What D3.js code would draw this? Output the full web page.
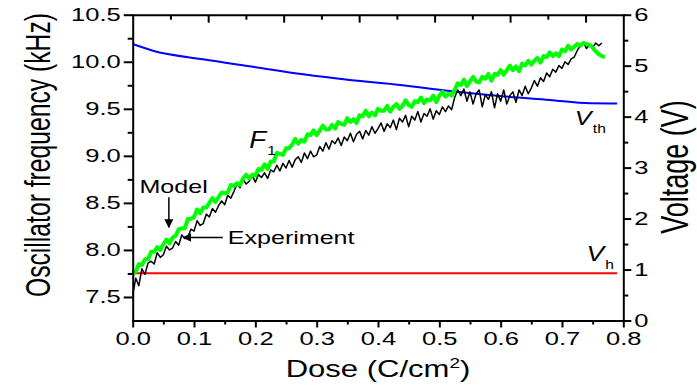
<!DOCTYPE html>
<html lang="en">
<head>
<meta charset="UTF-8" />
<script src="https://d3js.org/d3.v7.min.js"></script>
<style>
    body { margin: 0; background: #fff; overflow: hidden; }
    text { font-family: "Liberation Sans", Arial, sans-serif; fill: #000; }
    .axis path, .axis line { stroke: #000; stroke-width: 2; }
    .axis path { stroke-linecap: square; }
</style>
</head>
<body>
<script>
// ---- data ----
const doseStep = 0.005; // sampling of the two frequency traces (C/cm2)

// F1 model (green), kHz
const modelFreq = [
  7.74, 7.77, 7.85, 7.84, 7.90, 7.90, 7.98, 7.98, 8.03, 8.00,
  8.06, 8.11, 8.07, 8.13, 8.15, 8.22, 8.23, 8.23, 8.33, 8.33,
  8.35, 8.43, 8.39, 8.45, 8.45, 8.50, 8.55, 8.51, 8.56, 8.61,
  8.60, 8.61, 8.69, 8.68, 8.71, 8.69, 8.76, 8.80, 8.76, 8.80,
  8.79, 8.86, 8.85, 8.91, 8.86, 8.94, 8.94, 9.03, 9.02, 9.01,
  9.08, 9.08, 9.12, 9.18, 9.13, 9.17, 9.15, 9.23, 9.22, 9.27,
  9.22, 9.27, 9.32, 9.28, 9.28, 9.33, 9.29, 9.36, 9.34, 9.33,
  9.40, 9.36, 9.39, 9.35, 9.43, 9.42, 9.48, 9.42, 9.46, 9.43,
  9.50, 9.48, 9.48, 9.53, 9.47, 9.52, 9.55, 9.50, 9.53, 9.59,
  9.54, 9.52, 9.58, 9.57, 9.62, 9.56, 9.60, 9.59, 9.64, 9.57,
  9.64, 9.68, 9.63, 9.66, 9.64, 9.70, 9.77, 9.75, 9.81, 9.74,
  9.79, 9.84, 9.79, 9.78, 9.84, 9.82, 9.87, 9.80, 9.87, 9.86,
  9.91, 9.86, 9.91, 9.96, 9.91, 9.95, 9.90, 9.98, 9.96, 10.01,
  9.97, 10.01, 10.04, 9.99, 10.06, 10.05, 10.10, 10.06, 10.09, 10.06,
  10.13, 10.11, 10.17, 10.13, 10.16, 10.19, 10.17, 10.20, 10.19, 10.18,
  10.15, 10.11, 10.08, 10.06, 10.05
];

// experiment (black), kHz
const expFreq = [
  7.52, 7.70, 7.62, 7.80, 7.74, 7.86, 7.88, 7.85, 7.97, 7.92,
  7.95, 8.04, 8.00, 8.02, 8.09, 8.05, 8.16, 8.12, 8.14, 8.22,
  8.20, 8.31, 8.26, 8.28, 8.38, 8.35, 8.44, 8.40, 8.47, 8.52,
  8.48, 8.58, 8.55, 8.62, 8.70, 8.66, 8.75, 8.70, 8.73, 8.79,
  8.72, 8.80, 8.77, 8.82, 8.76, 8.85, 8.83, 8.90, 8.84, 8.92,
  8.87, 8.95, 8.88, 8.96, 8.99, 8.93, 9.03, 8.97, 9.05, 8.99,
  9.01, 9.10, 9.05, 9.14, 9.07, 9.16, 9.13, 9.19, 9.11, 9.20,
  9.16, 9.24, 9.15, 9.23, 9.26, 9.18, 9.27, 9.22, 9.31, 9.24,
  9.29, 9.35, 9.26, 9.34, 9.30, 9.38, 9.28, 9.40, 9.36, 9.43,
  9.31, 9.42, 9.38, 9.47, 9.36, 9.45, 9.42, 9.50, 9.39, 9.48,
  9.44, 9.52, 9.47, 9.53, 9.49, 9.62, 9.70, 9.64, 9.71, 9.58,
  9.68, 9.55, 9.66, 9.70, 9.52, 9.65, 9.60, 9.68, 9.51, 9.66,
  9.58, 9.70, 9.55, 9.64, 9.68, 9.57, 9.70, 9.64, 9.74, 9.66,
  9.72, 9.80, 9.74, 9.83, 9.79, 9.88, 9.84, 9.92, 9.89, 9.96,
  9.93, 10.00, 9.97, 10.03, 10.05, 10.12, 10.17, 10.21, 10.14, 10.18,
  10.15, 10.20, 10.17, 10.20
];

// Vth (blue), volts
const vthDose = [0, 0.033, 0.115, 0.196, 0.278, 0.354, 0.436, 0.517, 0.599, 0.680, 0.746, 0.790];
const vthVolt = [5.425, 5.293, 5.125, 4.979, 4.830, 4.718, 4.620, 4.503, 4.405, 4.327, 4.261, 4.258];

// Vh (red), volts
const vhDose = [0, 0.79];
const vhVolt = [0.925, 0.925];

// tick values
const doseTicks = [0, 0.1, 0.2, 0.3, 0.4, 0.5, 0.6, 0.7, 0.8];
const doseMinor = [0.05, 0.15, 0.25, 0.35, 0.45, 0.55, 0.65, 0.75];
const freqTicks = [7.5, 8.0, 8.5, 9.0, 9.5, 10.0, 10.5];
const freqMinor = [7.75, 8.25, 8.75, 9.25, 9.75, 10.25];
const voltTicks = [0, 1, 2, 3, 4, 5, 6];
const voltMinor = [0.5, 1.5, 2.5, 3.5, 4.5, 5.5];
const topTicks = [1, 2, 3, 4, 5, 6];
const topMinor = [0.5, 1.5, 2.5, 3.5, 4.5, 5.5];

// ---- layout ----
const width = 697, height = 385;
const margin = { top: 14.7, right: 73.7, bottom: 64.5, left: 132.7 };
const SX = 1.42; // the original text is drawn wide

const svg = d3.select("body").append("svg")
    .attr("width", width)
    .attr("height", height);

const x = d3.scaleLinear().domain([0, 0.8]).range([margin.left, width - margin.right]);
const yF = d3.scaleLinear().domain([7.25, 10.5]).range([height - margin.bottom, margin.top]);
const yV = d3.scaleLinear().domain([0, 6]).range([height - margin.bottom, margin.top]);
const xTop = d3.scaleLinear().domain([0, 6.5]).range([margin.left, width - margin.right]);

const defs = svg.append("defs");
defs.append("marker")
    .attr("id", "arrow")
    .attr("viewBox", "0 0 10 10")
    .attr("refX", 9).attr("refY", 5)
    .attr("markerWidth", 9).attr("markerHeight", 9)
    .attr("markerUnits", "userSpaceOnUse")
    .attr("orient", "auto")
    .append("path")
    .attr("d", "M0,0 L10,5 L0,10 Z")
    .attr("fill", "#000");

// ---- traces ----
const lineF = d3.line()
    .x((d, i) => x(i * doseStep))
    .y(d => yF(d));

const lineV = d3.line()
    .x(d => x(d[0]))
    .y(d => yV(d[1]));

svg.append("path")
    .datum(vhDose.map((d, i) => [d, vhVolt[i]]))
    .attr("d", lineV)
    .attr("fill", "none")
    .attr("stroke", "#ff0000")
    .attr("stroke-width", 2);

svg.append("path")
    .datum(vthDose.map((d, i) => [d, vthVolt[i]]))
    .attr("d", lineV.curve(d3.curveMonotoneX))
    .attr("fill", "none")
    .attr("stroke", "#0000ff")
    .attr("stroke-width", 2);

svg.append("path")
    .datum(expFreq)
    .attr("d", lineF)
    .attr("fill", "none")
    .attr("stroke", "#000")
    .attr("stroke-width", 1.5)
    .attr("stroke-linejoin", "round");

svg.append("path")
    .datum(modelFreq)
    .attr("d", lineF)
    .attr("fill", "none")
    .attr("stroke", "#00ff00")
    .attr("stroke-width", 4)
    .attr("stroke-linejoin", "round");

// ---- axes ----
function styleAxis(g) {
    g.attr("class", "axis")
        .attr("font-family", null)
        .attr("font-size", 18);
}

// bottom
svg.append("g")
    .attr("transform", `translate(0,${height - margin.bottom})`)
    .call(d3.axisBottom(x).tickValues(doseMinor).tickSize(4).tickFormat("").tickSizeOuter(0))
    .call(styleAxis)
    .call(g => g.select(".domain").remove());
svg.append("g")
    .attr("transform", `translate(0,${height - margin.bottom})`)
    .call(d3.axisBottom(x).tickValues(doseTicks).tickSize(7).tickFormat(d3.format(".1f")).tickSizeOuter(0))
    .call(styleAxis)
    .call(g => g.selectAll("text")
        .attr("y", 25).attr("dy", 0)
        .attr("transform", `scale(${SX},1)`));

// top (no labels, ticks inward)
svg.append("g")
    .attr("transform", `translate(0,${margin.top})`)
    .call(d3.axisBottom(xTop).tickValues(topMinor).tickSize(5).tickFormat("").tickSizeOuter(0))
    .call(styleAxis)
    .call(g => g.select(".domain").remove());
svg.append("g")
    .attr("transform", `translate(0,${margin.top})`)
    .call(d3.axisBottom(xTop).tickValues(topTicks).tickSize(8).tickFormat("").tickSizeOuter(0))
    .call(styleAxis);

// left
svg.append("g")
    .attr("transform", `translate(${margin.left},0)`)
    .call(d3.axisLeft(yF).tickValues(freqMinor).tickSize(5).tickFormat("").tickSizeOuter(0))
    .call(styleAxis)
    .call(g => g.select(".domain").remove());
svg.append("g")
    .attr("transform", `translate(${margin.left},0)`)
    .call(d3.axisLeft(yF).tickValues(freqTicks).tickSize(9).tickFormat(d3.format(".1f")).tickSizeOuter(0))
    .call(styleAxis)
    .call(g => g.selectAll("text")
        .attr("x", -12 / SX)
        .attr("transform", `scale(${SX},1)`));

// right
svg.append("g")
    .attr("transform", `translate(${width - margin.right},0)`)
    .call(d3.axisRight(yV).tickValues(voltMinor).tickSize(5).tickFormat("").tickSizeOuter(0))
    .call(styleAxis)
    .call(g => g.select(".domain").remove());
svg.append("g")
    .attr("transform", `translate(${width - margin.right},0)`)
    .call(d3.axisRight(yV).tickValues(voltTicks).tickSize(8).tickFormat(d3.format("d")).tickSizeOuter(0))
    .call(styleAxis)
    .call(g => g.selectAll("text")
        .attr("x", 11 / SX)
        .attr("transform", `scale(${SX},1)`));

// ---- axis titles ----
svg.append("text")
    .attr("transform", `translate(50,155) rotate(-90) scale(1,${SX})`)
    .attr("text-anchor", "middle")
    .style("font-size", "24.7px")
    .text("Oscillator frequency (kHz)");

svg.append("text")
    .attr("transform", `translate(688,167) rotate(-90) scale(1,${SX})`)
    .attr("text-anchor", "middle")
    .style("font-size", "27px")
    .text("Voltage (V)");

const xTitle = svg.append("text")
    .attr("transform", `translate(${(margin.left + width - margin.right) / 2},377) scale(1.35,1)`)
    .attr("text-anchor", "middle")
    .style("font-size", "23px");
xTitle.append("tspan").text("Dose (C/cm");
xTitle.append("tspan").attr("dy", -9).style("font-size", "14px").text("2");
xTitle.append("tspan").attr("dy", 9).text(")");

// ---- annotations ----
const SA = 1.32;
svg.append("text")
    .attr("transform", `translate(${x(0.011)},${yF(8.60)}) scale(${SA},1)`)
    .style("font-size", "19px")
    .text("Model");
svg.append("line")
    .attr("x1", x(0.059)).attr("y1", yF(8.56))
    .attr("x2", x(0.059)).attr("y2", yF(8.24))
    .attr("stroke", "#000").attr("stroke-width", 1.5)
    .attr("marker-end", "url(#arrow)");

svg.append("text")
    .attr("transform", `translate(${x(0.155)},${yF(8.068)}) scale(${SA},1)`)
    .style("font-size", "19px")
    .text("Experiment");
svg.append("line")
    .attr("x1", x(0.147)).attr("y1", yF(8.132))
    .attr("x2", x(0.0825)).attr("y2", yF(8.132))
    .attr("stroke", "#000").attr("stroke-width", 1.5)
    .attr("marker-end", "url(#arrow)");

const f1 = svg.append("text")
    .attr("transform", `translate(${x(0.190)},${yF(9.079)}) scale(1.2,1)`);
f1.append("tspan").style("font-style", "italic").style("font-size", "23px").text("F");
f1.append("tspan").attr("dy", 7).attr("dx", 1).style("font-size", "13px").text("1");

const vth = svg.append("text")
    .attr("transform", `translate(${x(0.721)},${yV(3.836)}) scale(1.2,1)`);
vth.append("tspan").style("font-style", "italic").style("font-size", "21px").text("V");
vth.append("tspan").attr("dy", 8).attr("dx", 1).style("font-size", "13px").text("th");

const vh = svg.append("text")
    .attr("transform", `translate(${x(0.740)},${yV(1.167)}) scale(1.2,1)`);
vh.append("tspan").style("font-style", "italic").style("font-size", "22px").text("V");
vh.append("tspan").attr("dy", 8).attr("dx", 1).style("font-size", "13px").text("h");
</script>
</body>
</html>
